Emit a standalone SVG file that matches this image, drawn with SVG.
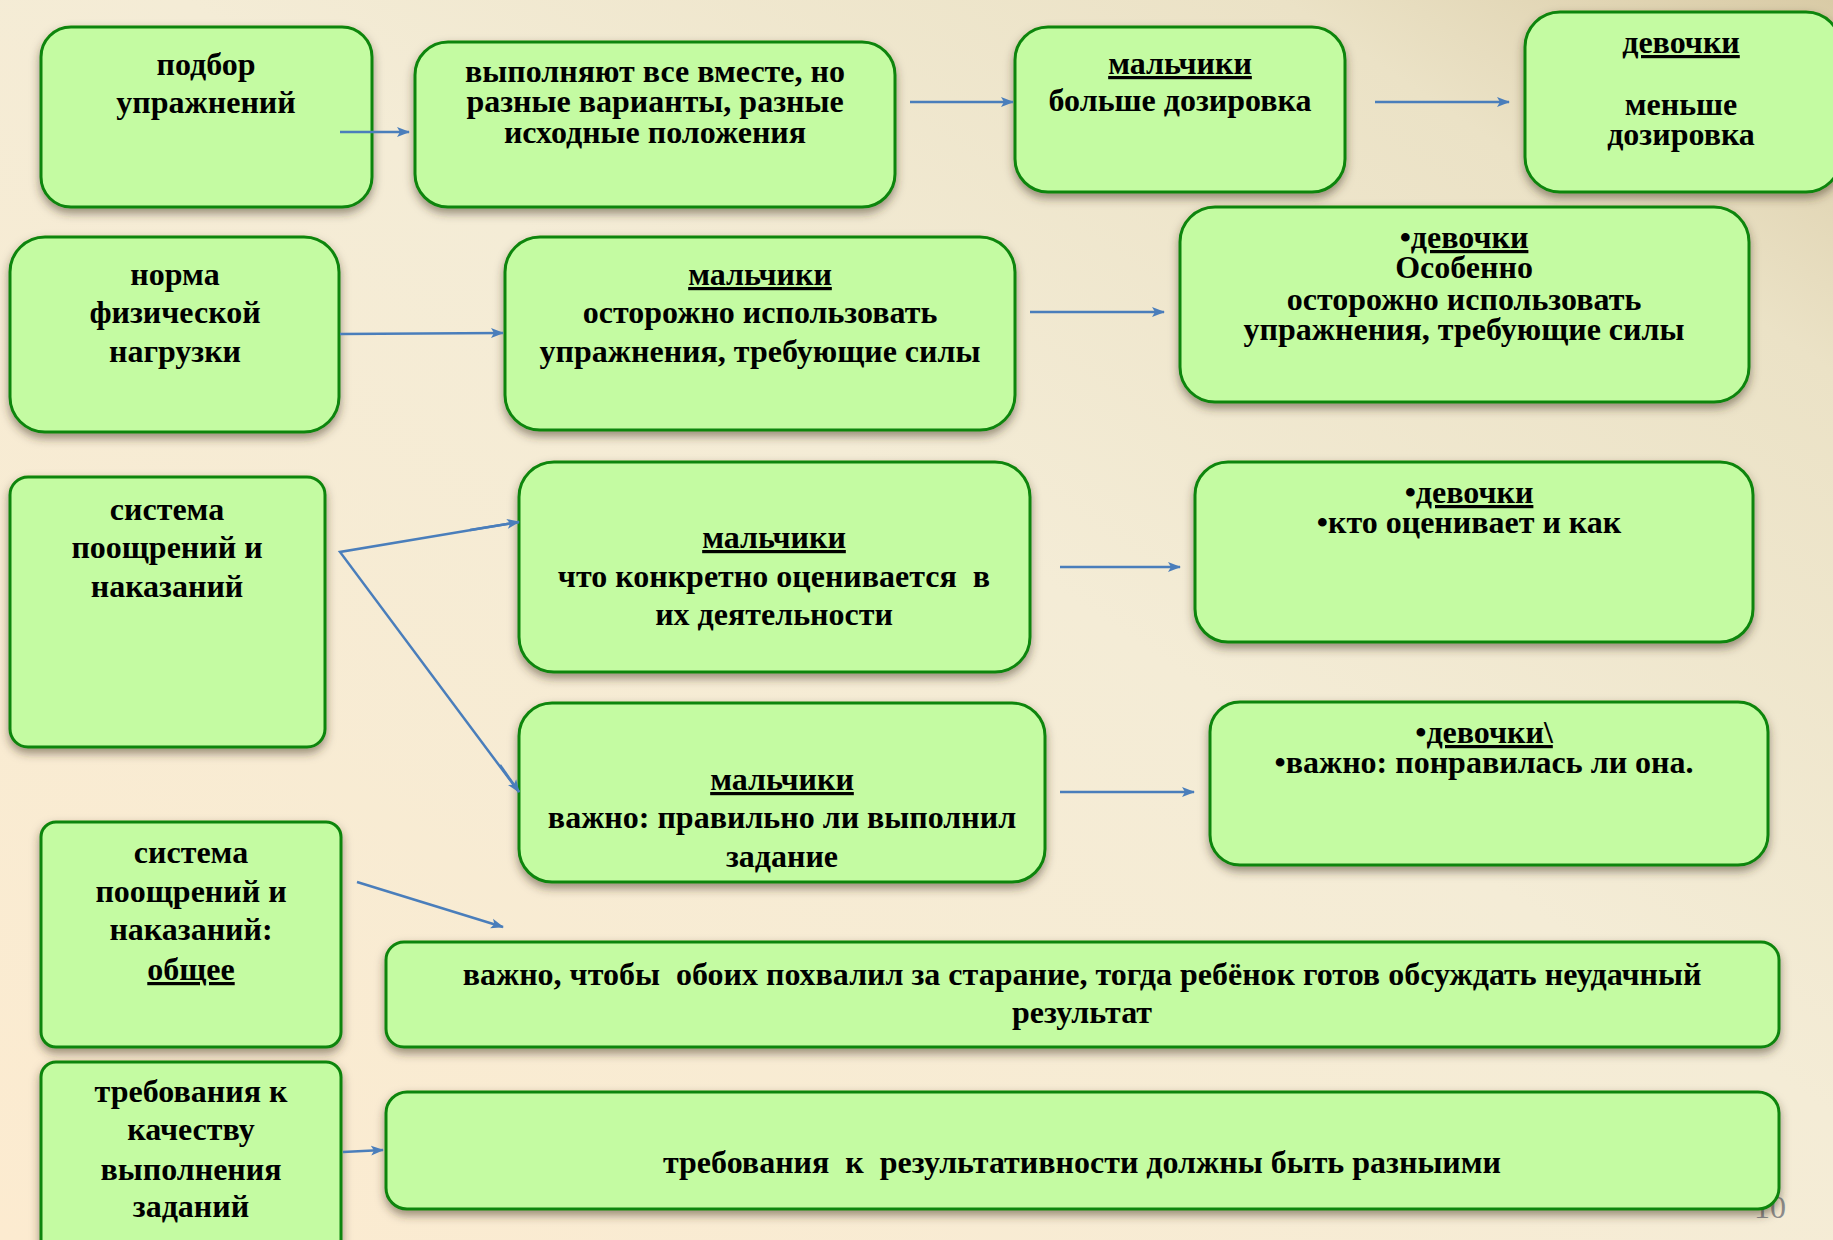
<svg xmlns="http://www.w3.org/2000/svg" width="1833" height="1240" viewBox="0 0 1833 1240" xml:space="preserve">
<defs>
  <linearGradient id="bg" x1="0" y1="1" x2="1" y2="0">
    <stop offset="0" stop-color="#FCEBD0"/>
    <stop offset="0.55" stop-color="#F4ECD6"/>
    <stop offset="0.85" stop-color="#EBE2C6"/>
    <stop offset="1" stop-color="#D9CBA6"/>
  </linearGradient>
  <filter id="sh" x="-10%" y="-20%" width="120%" height="150%">
    <feDropShadow dx="0" dy="5" stdDeviation="5" flood-color="#3a2f1a" flood-opacity="0.5"/>
  </filter>
  <marker id="ah" markerUnits="userSpaceOnUse" markerWidth="14" markerHeight="12" refX="12" refY="5" orient="auto" viewBox="0 0 14 10">
    <path d="M0,0 L13,5 L0,10 L3,5 z" fill="#4A7EBB"/>
  </marker>
</defs>
<style>
  .box { fill: #C4FBA2; stroke: #0A850A; stroke-width: 3; filter: url(#sh); }
  .t { font-family: "Liberation Serif", "Times New Roman", serif; font-weight: bold; font-size: 32px; fill: #000; text-anchor: middle; white-space: pre; }
  .u { text-decoration: underline; }
  .c { stroke: #4A7EBB; stroke-width: 2.5; fill: none; marker-end: url(#ah); }
  .pg { font-family: "Liberation Serif", serif; font-size: 32px; fill: #8C8C8C; }
</style>
<rect x="0" y="0" width="1833" height="1240" fill="url(#bg)"/>
<text class="pg" x="1754" y="1218">10</text>

<g id="n1"><rect class="box" x="41" y="27" width="331" height="180" rx="30"/>
<text class="t" x="206" y="75">подбор</text><text class="t" x="206" y="113">упражнений</text></g>

<g id="n2"><rect class="box" x="415" y="42" width="480" height="165" rx="33"/>
<text class="t" x="655" y="82">выполняют все вместе, но</text>
<text class="t" x="655" y="112">разные варианты, разные</text>
<text class="t" x="655" y="143">исходные положения</text></g>

<g id="n3"><rect class="box" x="1015" y="27" width="330" height="165" rx="33"/>
<text class="t" x="1180" y="74"><tspan class="u">мальчики</tspan></text>
<text class="t" x="1180" y="111">больше дозировка</text></g>

<g id="n4"><rect class="box" x="1525" y="12" width="316" height="180" rx="35"/>
<text class="t" x="1681" y="53"><tspan class="u">девочки</tspan></text>
<text class="t" x="1681" y="115">меньше</text>
<text class="t" x="1681" y="145">дозировка</text></g>

<g id="n5"><rect class="box" x="10" y="237" width="329" height="195" rx="35"/>
<text class="t" x="175" y="285">норма</text>
<text class="t" x="175" y="323">физической</text>
<text class="t" x="175" y="362">нагрузки</text></g>

<g id="n6"><rect class="box" x="505" y="237" width="510" height="193" rx="35"/>
<text class="t" x="760" y="285"><tspan class="u">мальчики</tspan></text>
<text class="t" x="760" y="323">осторожно использовать</text>
<text class="t" x="760" y="362">упражнения, требующие силы</text></g>

<g id="n7"><rect class="box" x="1180" y="207" width="569" height="195" rx="35"/>
<text class="t" x="1464" y="248">•<tspan class="u">девочки</tspan></text>
<text class="t" x="1464" y="278">Особенно</text>
<text class="t" x="1464" y="310">осторожно использовать</text>
<text class="t" x="1464" y="340">упражнения, требующие силы</text></g>

<g id="n8"><rect class="box" x="10" y="477" width="315" height="270" rx="18"/>
<text class="t" x="167" y="520">система</text>
<text class="t" x="167" y="558">поощрений и</text>
<text class="t" x="167" y="597">наказаний</text></g>

<g id="n9"><rect class="box" x="519" y="462" width="511" height="210" rx="35"/>
<text class="t" x="774" y="548"><tspan class="u">мальчики</tspan></text>
<text class="t" x="774" y="587">что конкретно оценивается  в</text>
<text class="t" x="774" y="625">их деятельности</text></g>

<g id="n10"><rect class="box" x="519" y="703" width="526" height="179" rx="33"/>
<text class="t" x="782" y="790"><tspan class="u">мальчики</tspan></text>
<text class="t" x="782" y="828">важно: правильно ли выполнил</text>
<text class="t" x="782" y="867">задание</text></g>

<g id="n11"><rect class="box" x="1195" y="462" width="558" height="180" rx="33"/>
<text class="t" x="1469" y="503">•<tspan class="u">девочки</tspan></text>
<text class="t" x="1469" y="533">•кто оценивает и как</text></g>

<g id="n12"><rect class="box" x="1210" y="702" width="558" height="163" rx="30"/>
<text class="t" x="1484" y="743">•<tspan class="u">девочки\</tspan></text>
<text class="t" x="1484" y="773">•важно: понравилась ли она.</text></g>

<g id="n13"><rect class="box" x="41" y="822" width="300" height="225" rx="15"/>
<text class="t" x="191" y="863">система</text>
<text class="t" x="191" y="902">поощрений и</text>
<text class="t" x="191" y="940">наказаний:</text>
<text class="t" x="191" y="980"><tspan class="u">общее</tspan></text></g>

<g id="n14"><rect class="box" x="386" y="942" width="1393" height="105" rx="18"/>
<text class="t" x="1082" y="985">важно, чтобы  обоих похвалил за старание, тогда ребёнок готов обсуждать неудачный</text>
<text class="t" x="1082" y="1023">результат</text></g>

<g id="n15"><rect class="box" x="41" y="1062" width="300" height="200" rx="15"/>
<text class="t" x="191" y="1102">требования к</text>
<text class="t" x="191" y="1140">качеству</text>
<text class="t" x="191" y="1180">выполнения</text>
<text class="t" x="191" y="1217">заданий</text></g>

<g id="n16"><rect class="box" x="386" y="1092" width="1393" height="117" rx="21"/>
<text class="t" x="1082" y="1173">требования  к  результативности должны быть разныими</text></g>

<g id="connectors">
  <line class="c" x1="340" y1="132" x2="409" y2="132"/>
  <line class="c" x1="910" y1="102" x2="1013" y2="102"/>
  <line class="c" x1="1375" y1="102" x2="1509" y2="102"/>
  <line class="c" x1="340" y1="334" x2="503" y2="333"/>
  <line class="c" x1="1030" y1="312" x2="1164" y2="312"/>
  <polyline class="c" points="519,522 340,552 519,792" style="marker-end:none"/>
  <line class="c" x1="470" y1="530" x2="519" y2="522"/>
  <line class="c" x1="500" y1="765" x2="519" y2="792"/>
  <line class="c" x1="1060" y1="567" x2="1180" y2="567"/>
  <line class="c" x1="1060" y1="792" x2="1194" y2="792"/>
  <line class="c" x1="357" y1="882" x2="503" y2="927"/>
  <line class="c" x1="343" y1="1152" x2="383" y2="1150"/>
</g>
</svg>
